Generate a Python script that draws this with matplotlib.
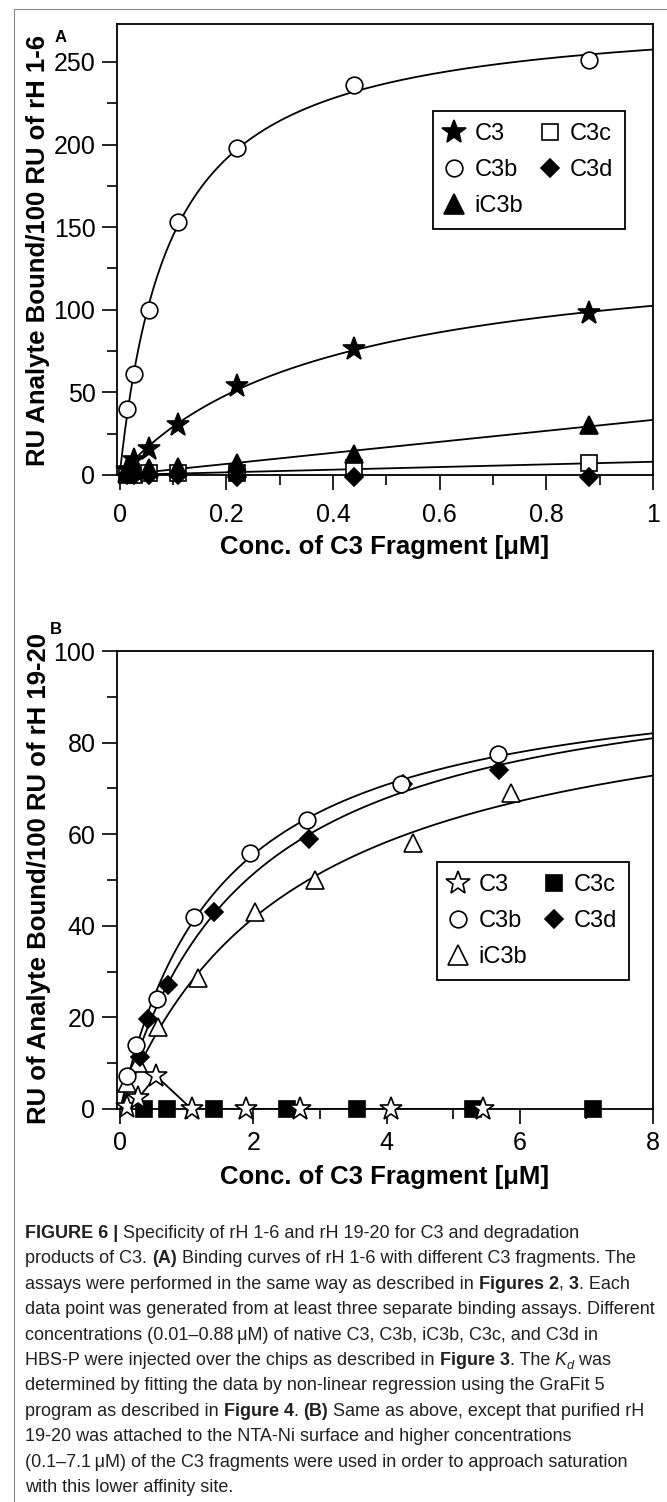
import numpy as np
import matplotlib
matplotlib.use("Agg")
import matplotlib.pyplot as plt
from matplotlib import font_manager
from matplotlib.lines import Line2D
from matplotlib.patches import Rectangle
from matplotlib.ticker import MultipleLocator, FuncFormatter

W, H = 667, 1502

# ---- panel A: rH 1-6 ----
conc_a = [0.01375, 0.0275, 0.055, 0.11, 0.22, 0.44, 0.88]
c3_a = [3, 9, 16, 30, 54, 76, 98]
c3b_a = [40, 61, 100, 153, 198, 236, 251]
ic3b_a = [1, 3, 4, 5, 7, 13, 30]
c3c_a = [0, 0, 1, 1, 1, 4, 7]
c3d_a = [0, 0, 0, 0, -1, -1, -1]

# ---- panel B: rH 19-20 ----
c3_b_x = [0.1, 0.27, 0.54, 1.07, 1.88, 2.7, 4.07, 5.44]
c3_b = [0.5, 2.4, 7.2, 0, 0, 0, 0, 0]
c3c_b_x = [0.35, 0.7, 1.4, 2.5, 3.55, 5.3, 7.1]
c3c_b = [0, 0, 0, 0, 0, 0, 0]
c3b_b_x = [0.1, 0.24, 0.55, 1.1, 1.95, 2.81, 4.21, 5.67]
c3b_b = [7.2, 14, 24, 42, 56, 63, 71, 77.5]
c3d_b_x = [0.3, 0.42, 0.71, 1.4, 2.83, 4.25, 5.68]
c3d_b = [11.4, 19.6, 27, 43, 59, 71, 74]
ic3b_b_x = [0.1, 0.27, 0.57, 1.16, 2.03, 2.93, 4.39, 5.86]
ic3b_b = [5.7, 10, 18, 28.6, 43, 50, 58, 69]

labels = ["C3", "C3b", "iC3b", "C3c", "C3d"]


def fit_binding(x, y):
    # one-site hyperbola B = Bmax*x/(Kd+x), least squares over a Kd grid
    x = np.asarray(x, float)
    y = np.asarray(y, float)
    best = None
    for kd in np.logspace(-3, 2, 3000):
        f = x / (kd + x)
        bmax = (f @ y) / (f @ f)
        sse = ((y - bmax * f) ** 2).sum()
        if best is None or sse < best[0]:
            best = (sse, kd, bmax)
    return best[1], best[2]


plt.rcParams["font.family"] = ["Liberation Sans", "DejaVu Sans"]
names = {f.name for f in font_manager.fontManager.ttflist}
narrow = "Liberation Sans Narrow" if "Liberation Sans Narrow" in names else "Liberation Sans"

fig = plt.figure(figsize=(W / 100, H / 100), dpi=100)
fig.patches.append(Rectangle((14 / W, -0.01), 2, 1.01 - 9 / H, transform=fig.transFigure,
                             fill=False, edgecolor="#8a8a8a", lw=0.8))


def px_axes(l, t, r, b):
    return fig.add_axes([l / W, 1 - b / H, (r - l) / W, (b - t) / H])


def style(ax, xmaj, xmin, ymaj, ymin, xlim, ylim, xpad, labelpad):
    ax.set_xlim(*xlim)
    ax.set_ylim(*ylim)
    for s in ax.spines.values():
        s.set_linewidth(1.3)
    ax.xaxis.set_major_locator(MultipleLocator(xmaj))
    ax.xaxis.set_minor_locator(MultipleLocator(xmin))
    ax.yaxis.set_major_locator(MultipleLocator(ymaj))
    ax.yaxis.set_minor_locator(MultipleLocator(ymin))
    ax.xaxis.set_major_formatter(FuncFormatter(lambda v, p: "%g" % round(v, 6)))
    ax.yaxis.set_major_formatter(FuncFormatter(lambda v, p: "%g" % round(v, 6)))
    ax.tick_params(which="major", direction="out", length=10.5, width=1.2,
                   labelsize=18, labelfontfamily=narrow)
    ax.tick_params(which="minor", direction="out", length=7, width=1.2)
    ax.tick_params(axis="x", which="major", pad=xpad)
    ax.tick_params(axis="y", which="major", pad=5)
    ax.set_xlabel("Conc. of C3 Fragment [μM]", fontsize=18.5, fontweight="bold",
                  labelpad=labelpad)


mk = dict(color="black", ls="none", mec="black", mew=1.2, clip_on=False, zorder=5)
open_ = dict(mfc="white")
fill = dict(mfc="black")
leg_kw = dict(ncol=2, loc="upper left", fancybox=False, edgecolor="black", fontsize=17,
              handlelength=0.8, handletextpad=0.45, columnspacing=0.75, labelspacing=0.6,
              borderpad=0.5, borderaxespad=0, framealpha=1)

# panel A
axA = px_axes(117, 24, 653, 475)
style(axA, 0.2, 0.1, 50, 25, (-0.005, 1.0), (0, 273), 10, 5.5)
xa = np.linspace(0, 1, 400)
for ys in [c3_a, c3b_a, ic3b_a, c3c_a, c3d_a]:
    kd, bmax = fit_binding(conc_a, ys)
    axA.plot(xa, bmax * xa / (kd + xa), color="black", lw=1.3, zorder=3)
axA.plot(conc_a, c3c_a, marker="s", ms=11, **open_, **mk)
axA.plot(conc_a, c3d_a, marker="D", ms=9, **fill, **mk)
axA.plot(conc_a, ic3b_a, marker="^", ms=13.5, **fill, **mk)
axA.plot(conc_a, c3_a, marker="*", ms=17, **fill, **mk)
axA.plot(conc_a, c3b_a, marker="o", ms=12, **open_, **mk)

hA = [Line2D([], [], marker="*", ms=18, **fill, **mk),
      Line2D([], [], marker="o", ms=12, **open_, **mk),
      Line2D([], [], marker="^", ms=14, **fill, **mk),
      Line2D([], [], marker="s", ms=11, **open_, **mk),
      Line2D([], [], marker="D", ms=9, **fill, **mk)]
legA = axA.legend(hA, labels, bbox_to_anchor=((433 - 117) / 536, (475 - 111) / 451), **leg_kw)
legA.get_frame().set_linewidth(1.3)

# panel B
axB = px_axes(117, 651, 653, 1109)
style(axB, 2, 1, 20, 10, (-0.05, 8), (0, 100), 5, 7.5)
xb = np.linspace(0, 8, 400)
for xs, ys in [(c3b_b_x, c3b_b), (c3d_b_x, c3d_b), (ic3b_b_x, ic3b_b)]:
    kd, bmax = fit_binding(xs, ys)
    axB.plot(xb, bmax * xb / (kd + xb), color="black", lw=1.3, zorder=3)
axB.plot(c3_b_x, c3_b, color="black", lw=1.3, zorder=3)
axB.plot(c3c_b_x, c3c_b, marker="s", ms=11, **fill, **mk)
axB.plot(ic3b_b_x, ic3b_b, marker="^", ms=13.5, **open_, **mk)
axB.plot(c3d_b_x, c3d_b, marker="D", ms=9, **fill, **mk)
axB.plot(c3b_b_x, c3b_b, marker="o", ms=12, **open_, **mk)
axB.plot(c3_b_x, c3_b, marker="*", ms=17, **open_, **mk)

hB = [Line2D([], [], marker="*", ms=18, **open_, **mk),
      Line2D([], [], marker="o", ms=12, **open_, **mk),
      Line2D([], [], marker="^", ms=14, **open_, **mk),
      Line2D([], [], marker="s", ms=11, **fill, **mk),
      Line2D([], [], marker="D", ms=9, **fill, **mk)]
legB = axB.legend(hB, labels, bbox_to_anchor=((437 - 117) / 536, (1109 - 862) / 458), **leg_kw)
legB.get_frame().set_linewidth(1.3)

# y labels and panel letters
fig.text(38 / W, 1 - 250 / H, "RU Analyte Bound/100 RU of rH 1-6", rotation=90,
         ha="center", va="center", fontsize=18.5, fontweight="bold")
fig.text(39 / W, 1 - 878 / H, "RU of Analyte Bound/100 RU of rH 19-20", rotation=90,
         ha="center", va="center", fontsize=18.5, fontweight="bold")
fig.text(61 / W, 1 - 37 / H, "A", ha="center", va="center", fontsize=12, fontweight="bold")
fig.text(56 / W, 1 - 630 / H, "B", ha="center", va="center", fontsize=12, fontweight="bold")

# caption
cap_lines = [
    [("FIGURE 6 | ", "b"), ("Specificity of rH 1-6 and rH 19-20 for C3 and degradation", "")],
    [("products of C3. ", ""), ("(A)", "b"), (" Binding curves of rH 1-6 with different C3 fragments. The", "")],
    [("assays were performed in the same way as described in ", ""), ("Figures 2", "b"), (", ", ""),
     ("3", "b"), (". Each", "")],
    [("data point was generated from at least three separate binding assays. Different", "")],
    [("concentrations (0.01–0.88\u2009μM) of native C3, C3b, iC3b, C3c, and C3d in", "")],
    [("HBS-P were injected over the chips as described in ", ""), ("Figure 3", "b"), (". The ", ""),
     ("K", "i"), ("d", "s"), (" was", "")],
    [("determined by fitting the data by non-linear regression using the GraFit 5", "")],
    [("program as described in ", ""), ("Figure 4", "b"), (". ", ""), ("(B)", "b"),
     (" Same as above, except that purified rH", "")],
    [("19-20 was attached to the NTA-Ni surface and higher concentrations", "")],
    [("(0.1–7.1\u2009μM) of the C3 fragments were used in order to approach saturation", "")],
    [("with this lower affinity site.", "")],
]

renderer = fig.canvas.get_renderer()
cap_color = "#231f20"


def seg_props(style_, size):
    p = dict(fontsize=size, color=cap_color)
    if style_ == "b":
        p["fontweight"] = "bold"
    if style_ in ("i", "s"):
        p["fontstyle"] = "italic"
    if style_ == "s":
        p["fontsize"] = size * 0.72
    return p


def advance(s, props):
    t1 = fig.text(0, 0, "|" + s + "|", **props)
    t2 = fig.text(0, 0, "||", **props)
    w = t1.get_window_extent(renderer).width - t2.get_window_extent(renderer).width
    t1.remove()
    t2.remove()
    return w


# scale the caption font so the longest line spans the caption width
base = 12
ref_w = sum(advance(s, seg_props(st, base)) for s, st in cap_lines[3])
cap_size = base * 630 / ref_w

x0, y0, dy = 25, 1238, 25.4
for i, line in enumerate(cap_lines):
    x = x0
    yb = y0 + i * dy
    for s, st in line:
        props = seg_props(st, cap_size)
        off = 4 if st == "s" else 0
        fig.text(x / W, 1 - (yb + off) / H, s, va="baseline", ha="left", **props)
        x += advance(s, props)

fig.savefig("out.png", dpi=100)
